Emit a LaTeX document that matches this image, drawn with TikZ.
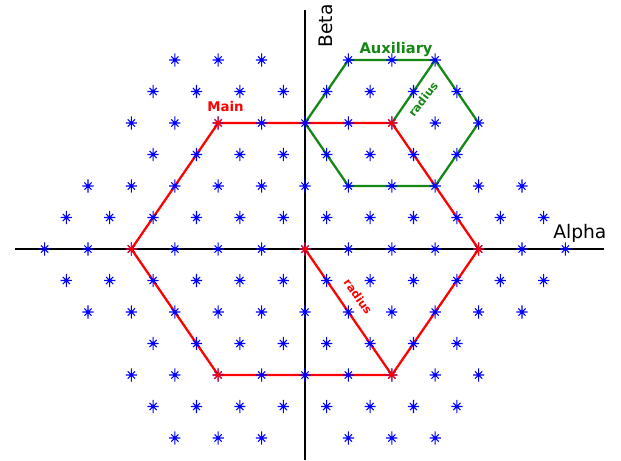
\documentclass[tikz,border=0pt]{standalone}
\usepackage{fontspec}
\newfontfamily\dv{DejaVu Sans}
\definecolor{mygreen}{RGB}{20,135,20}
\definecolor{myblue}{RGB}{0,0,255}
\definecolor{myred}{RGB}{255,0,0}
\newcommand\starat[2]{\draw[#1] (#2) +(0pt,-5pt) -- +(0pt,5pt) +(-4.2pt,0pt) -- +(4.2pt,0pt) +(-2.7pt,-2.7pt) -- +(2.7pt,2.7pt) +(-2.7pt,2.7pt) -- +(2.7pt,-2.7pt);}
\begin{document}
\begin{tikzpicture}[x=16.275pt,y=23.625pt,
  axisline/.style={black,line width=1.5pt},
  mainline/.style={myred,line width=1.7pt,line join=miter},
  auxline/.style={mygreen,line width=1.7pt,line join=miter},
  bluestar/.style={myblue,line width=0.8pt},
  redstar/.style={myred,line width=0.8pt},
  lbl/.style={font=\dv\bfseries\fontsize{10}{12}\selectfont,inner sep=0pt},
  axlbl/.style={font=\dv\fontsize{14}{16}\selectfont,inner sep=0pt}]
\useasboundingbox (-14.055,-6.698) rectangle (14.562,7.905);
% axes
\coordinate (xl) at (-13.36,0);
\coordinate (xr) at (13.78,0);
\coordinate (yt) at (0,7.587);
\coordinate (yb) at (0,-6.698);
\draw[axisline] (xl) -- (xr);
\draw[axisline] (yb) -- (yt);
% main hexagon
\coordinate (O) at (0,0);
\coordinate (M1) at (8,0);
\coordinate (M2) at (4,4);
\coordinate (M3) at (-4,4);
\coordinate (M4) at (-8,0);
\coordinate (M5) at (-4,-4);
\coordinate (M6) at (4,-4);
% auxiliary hexagon
\coordinate (A0) at (4,4);
\coordinate (A1) at (8,4);
\coordinate (A2) at (6,6);
\coordinate (A3) at (2,6);
\coordinate (A4) at (0,4);
\coordinate (A5) at (2,2);
\coordinate (A6) at (6,2);
\draw[auxline] (A1) -- (A2) -- (A3) -- (A4) -- (A5) -- (A6) -- cycle;
\draw[auxline] (A0) -- (A2);
\draw[mainline] (M1) -- (M2) -- (M3) -- (M4) -- (M5) -- (M6) -- cycle;
\draw[mainline] (O) -- (M6);
% lattice of stars
\foreach \r/\m in {0/12,1/11,-1/11,2/10,-2/10,3/7,-3/7,4/8,-4/8,5/7,-5/7,6/6,-6/6}{
  \foreach \i in {-12,...,12}{
    \pgfmathtruncatemacro\ok{(mod(abs(\i+\r),2)==0)*(abs(\i)<=\m)*(1-(\i==0)*(abs(\r)==6))}
    \ifnum\ok=1 \starat{bluestar}{\i,\r}\fi
  }
}
\foreach \p in {O,M1,M2,M3,M4,M5,M6}{\starat{redstar}{\p}}
% labels
\node[axlbl,rotate=90] (beta) at (0.945,7.08) {Beta};
\node[axlbl,anchor=base west] (alpha) at (11.43,0.349) {Alpha};
\node[lbl,text=myred,anchor=base west] (main) at (-4.51,4.381) {Main};
\node[lbl,text=mygreen,anchor=base west,font=\dv\bfseries\fontsize{11}{13}\selectfont] (aux) at (2.5,6.21) {Auxiliary};
\node[lbl,text=mygreen,rotate=52,font=\dv\bfseries\fontsize{8.5}{10}\selectfont] (rg) at (5.44,4.76) {radius};
\node[lbl,text=myred,rotate=-55,font=\dv\bfseries\fontsize{8.5}{10}\selectfont] (rr) at (2.45,-1.51) {radius};
\end{tikzpicture}
\end{document}
